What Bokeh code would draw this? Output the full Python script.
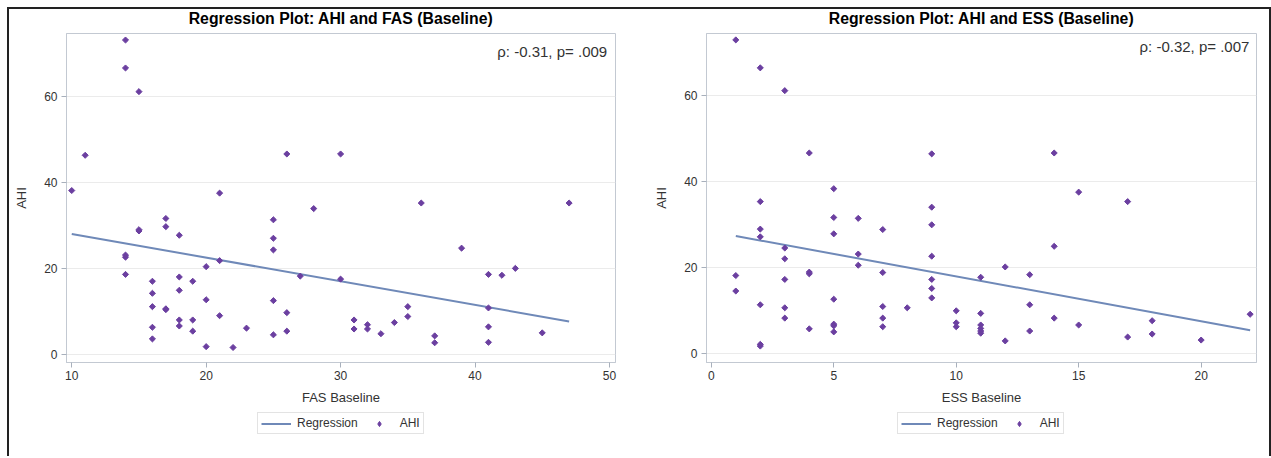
from bokeh.plotting import figure
from bokeh.models import Range1d, FixedTicker, Label, Legend, LegendItem
from bokeh.layouts import row, column
from bokeh.embed import file_html
from bokeh.resources import INLINE

# ---------------- data ----------------
fas_baseline = [14, 14, 15, 11, 10, 21, 26, 30, 28, 17, 17, 15, 15, 18, 25, 25, 25,
                14, 14, 21, 20, 14, 27, 30, 16, 18, 19, 16, 18, 20, 25, 16, 17, 17,
                26, 21, 18, 19, 31, 18, 16, 23, 31, 19, 26, 25, 16, 20, 22, 36, 47,
                39, 43, 41, 42, 35, 41, 35, 32, 32, 34, 33, 41, 45, 37, 37, 41]
fas_ahi = [73.2, 66.7, 61.2, 46.4, 38.2, 37.6, 46.7, 46.7, 34.0, 31.7, 29.8, 28.8, 29.1,
           27.8, 31.4, 27.1, 24.4, 22.7, 23.2, 21.9, 20.5, 18.7, 18.3, 17.6, 17.1, 18.1,
           17.1, 14.3, 15.0, 12.8, 12.6, 11.2, 10.5, 10.7, 9.8, 9.1, 8.1, 8.1, 8.1, 6.7,
           6.4, 6.2, 6.0, 5.5, 5.5, 4.65, 3.7, 1.9, 1.7, 35.3, 35.3, 24.8, 20.1, 18.7,
           18.5, 11.2, 10.9, 8.9, 7.0, 6.0, 7.5, 4.9, 6.5, 5.1, 4.4, 2.8, 2.9]

ess_baseline = [1, 2, 3, 4, 9, 5, 2, 9, 5, 6, 9, 2, 7, 5, 2, 3, 3, 6, 9, 6, 1, 4, 4, 7,
                9, 3, 11, 9, 1, 9, 5, 2, 3, 7, 8, 10, 11, 3, 7, 10, 10, 5, 5, 11, 11, 11,
                11, 4, 7, 5, 2, 2, 14, 15, 17, 14, 12, 13, 13, 22, 14, 18, 15, 13, 18,
                17, 12, 20]
ess_ahi = [73.0, 66.5, 61.2, 46.7, 46.5, 38.4, 35.4, 34.1, 31.7, 31.5, 30.0, 29.0, 28.9,
           27.9, 27.2, 24.6, 22.1, 23.2, 22.7, 20.6, 18.2, 18.6, 19.0, 18.9, 17.3, 17.3,
           17.8, 15.2, 14.6, 13.0, 12.7, 11.4, 10.7, 11.0, 10.7, 10.0, 9.4, 8.3, 8.3,
           7.2, 6.3, 6.9, 6.5, 6.7, 5.9, 5.3, 4.8, 5.8, 6.3, 5.1, 1.8, 2.2, 46.7, 37.6,
           35.4, 25.0, 20.2, 18.4, 11.4, 9.2, 8.3, 7.7, 6.7, 5.3, 4.6, 3.9, 3.0, 3.2]

fas_reg_x = [10, 47]
fas_reg_y = [28.1, 7.75]
ess_reg_x = [1, 22]
ess_reg_y = [27.4, 5.5]

fas_ticks = [10, 20, 30, 40, 50]
ess_ticks = [0, 5, 10, 15, 20]
ahi_ticks = [0, 20, 40, 60]

titles = ["Regression Plot: AHI and FAS (Baseline)", "Regression Plot: AHI and ESS (Baseline)"]
x_labels = ["FAS Baseline", "ESS Baseline"]
notes = ["\u03c1: -0.31, p= .009", "\u03c1: -0.32, p= .007"]

# ---------------- style ----------------
FONT = "Liberation Sans"
MARKER = "#6B3FA0"
LINE = "#6F89B8"
FRAME = "#C3C9D2"
TXT = "#333333"
MAIN_H = 410
LEG_H = 48


def panel(title, xlabel, xs, ys, rx, ry, xticks, xr, yr, note, note_pos, width, bl, br):
    p = figure(width=width, height=MAIN_H, x_range=Range1d(*xr), y_range=Range1d(*yr),
               output_backend="svg", toolbar_location=None, title=title,
               min_border_left=bl, min_border_right=br, min_border_top=33,
               min_border_bottom=MAIN_H - 362)
    p.title.align = "center"
    p.title.text_font = FONT
    p.title.text_font_size = "15.8px"
    p.title.text_font_style = "bold"
    p.title.text_color = "#000000"
    p.title.standoff = 13
    p.outline_line_color = FRAME
    p.background_fill_color = "white"
    p.border_fill_color = None
    p.xgrid.visible = False
    p.ygrid.grid_line_color = "#EBEBEB"
    p.ygrid.ticker = FixedTicker(ticks=ahi_ticks)
    p.xaxis.ticker = FixedTicker(ticks=xticks)
    p.yaxis.ticker = FixedTicker(ticks=ahi_ticks)
    p.xaxis.axis_label = xlabel
    p.yaxis.axis_label = "AHI"
    for ax in (p.xaxis[0], p.yaxis[0]):
        ax.axis_line_color = FRAME
        ax.major_tick_line_color = "#A8B0BC"
        ax.major_tick_out = 5
        ax.major_tick_in = 0
        ax.minor_tick_line_color = None
        ax.major_label_text_font = FONT
        ax.major_label_text_font_size = "12px"
        ax.major_label_text_color = TXT
        ax.axis_label_text_font = FONT
        ax.axis_label_text_font_size = "13px"
        ax.axis_label_text_font_style = "normal"
        ax.axis_label_text_color = TXT
    p.xaxis.major_label_standoff = 3
    p.xaxis.axis_label_standoff = 7
    p.yaxis.major_label_standoff = 4
    p.yaxis.axis_label_standoff = 12

    p.line(rx, ry, line_color=LINE, line_width=2)
    p.scatter(xs, ys, marker="square", angle=0.785398, size=4.3,
              fill_color=MARKER, line_color=MARKER)

    p.add_layout(Label(x=note_pos[0], y=note_pos[1], text=note, text_align="right",
                       text_baseline="top", text_font=FONT, text_font_size="15px",
                       text_color=TXT))
    return p


def legend_strip(width, leg_x, xs, ys, rx, ry):
    # the same series are attached here only to feed the legend swatches;
    # the ranges keep them out of this strip's (invisible) frame
    l = figure(width=width, height=LEG_H, x_range=Range1d(-3, -2), y_range=Range1d(-3, -2),
               output_backend="svg", toolbar_location=None, min_border=0,
               x_axis_location=None, y_axis_location=None)
    l.outline_line_color = None
    l.border_fill_color = None
    l.background_fill_color = None
    l.grid.visible = False
    ln = l.line(rx, ry, line_color=LINE, line_width=2)
    sc = l.scatter(xs, ys, marker="diamond", size=6,
                   fill_color=MARKER, line_color=MARKER)
    legend = Legend(items=[LegendItem(label="Regression", renderers=[ln]),
                           LegendItem(label="AHI", renderers=[sc])],
                    orientation="horizontal", location=(leg_x, 24),
                    label_text_font=FONT, label_text_font_size="12px",
                    label_text_color=TXT, border_line_color="#C8C8C8",
                    background_fill_color="white", background_fill_alpha=1.0,
                    padding=3, spacing=6, glyph_width=30, glyph_height=13,
                    label_height=13, label_standoff=6, margin=0)
    l.add_layout(legend, "center")
    return l


p1 = panel(titles[0], x_labels[0], fas_baseline, fas_ahi, fas_reg_x, fas_reg_y, fas_ticks,
           (9.61, 50.45), (-1.79, 74.72), notes[0], (49.83, 72.6), 636, 66, 21)
p2 = panel(titles[1], x_labels[1], ess_baseline, ess_ahi, ess_reg_x, ess_reg_y, ess_ticks,
           (-0.196, 22.26), (-2.02, 74.49), notes[1], (21.97, 73.5), 635, 70, 15)
l1 = legend_strip(636, 257, fas_baseline, fas_ahi, fas_reg_x, fas_reg_y)
l2 = legend_strip(635, 261, ess_baseline, ess_ahi, ess_reg_x, ess_reg_y)

layout = column(
    row(p1, p2),
    row(l1, l2),
    styles={"box-shadow": "inset 1px -1px 0 1px white, inset 3.5px 3.5px 0 3.5px white, "
                          "inset 3.5px 3.5px 0 5.5px #222222",
            "background-color": "white"},
)

open("out.html", "w").write(file_html(layout, INLINE))
